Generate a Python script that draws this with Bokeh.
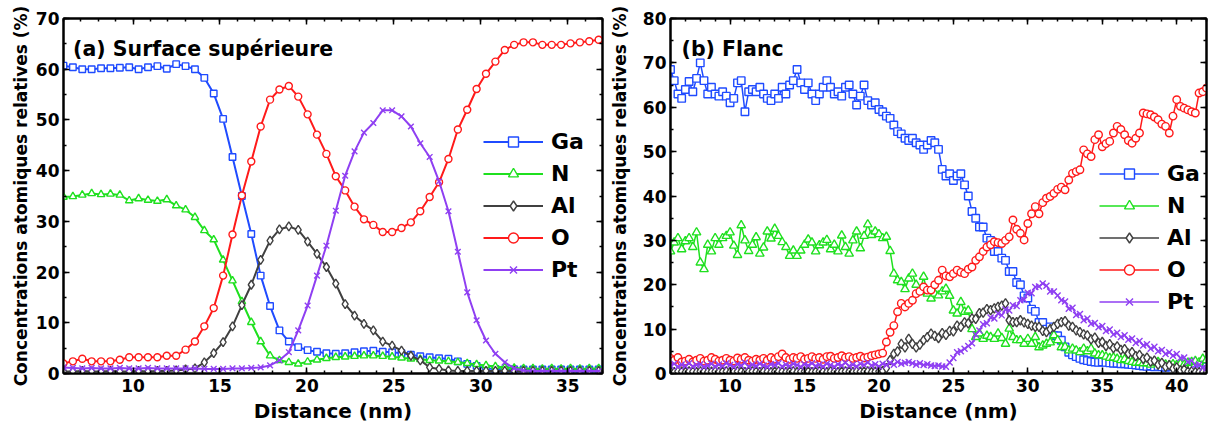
import numpy as np
from bokeh.plotting import figure
from bokeh.models import (Range1d, LinearAxis, SingleIntervalTicker, Legend, LegendItem,
                          Label, CustomJSTickFormatter)
from bokeh.layouts import row
from bokeh.embed import file_html
from bokeh.resources import INLINE

# ---------------- data ----------------
elements = ["Ga", "N", "Al", "O", "Pt"]
colors = ["#1f4bff", "#1fe01f", "#404040", "#ff1a1a", "#8f3ff2"]
markers = ["square", "triangle", "diamond", "circle", "x"]

# (a) Surface supérieure  -- distance grid (nm)
dist_a = np.round(6 + 0.54 * np.arange(58), 2)
ga_a = [60.7, 60.4, 60.0, 60.0, 60.2, 60.2, 60.3, 60.4, 60.0, 60.4,
        60.6, 60.1, 61.0, 60.6, 60.0, 58.3, 55.2, 50.2, 42.7, 35.0,
        27.5, 19.3, 13.3, 8.5, 6.3, 5.2, 4.6, 4.3, 4.0, 3.9,
        4.0, 4.2, 4.4, 4.5, 4.3, 4.2, 4.0, 3.7, 3.4, 3.2,
        3.0, 2.9, 2.4, 1.9, 1.5, 1.0, 0.9, 0.8, 0.8, 0.8,
        0.8, 0.8, 0.8, 0.8, 0.8, 0.8, 0.8, 0.8]
n_a = [34.8, 34.9, 35.2, 35.5, 35.3, 35.4, 35.2, 34.1, 34.5, 34.2,
       34.0, 34.3, 33.1, 32.3, 30.8, 28.2, 26.4, 22.4, 18.3, 14.2,
       10.1, 6.3, 3.5, 2.6, 2.2, 1.9, 2.3, 2.7, 3.0, 3.2,
       3.3, 3.4, 3.5, 3.5, 3.4, 3.3, 3.1, 2.9, 2.8, 2.6,
       2.5, 2.4, 2.2, 2.0, 1.8, 1.6, 1.4, 1.2, 1.1, 1.0,
       1.0, 0.9, 1.0, 0.9, 1.0, 0.9, 1.0, 1.0]
al_a = [0.4, 0.4, 0.5, 0.4, 0.4, 0.5, 0.4, 0.4, 0.5, 0.4,
        0.5, 0.5, 0.6, 0.8, 1.0, 2.2, 4.0, 6.2, 9.3, 13.5,
        17.5, 22.4, 26.2, 28.4, 29.0, 28.3, 26.0, 23.6, 21.0, 17.7,
        13.7, 11.4, 9.8, 8.5, 6.3, 5.5, 4.5, 3.5, 2.6, 1.2,
        0.9, 0.6, 0.5, 0.5, 0.5, 0.5, 0.5, 0.5, 0.5, 0.5,
        0.5, 0.5, 0.5, 0.5, 0.5, 0.5, 0.5, 0.5]
o_a = [2.0, 2.4, 2.9, 2.4, 2.4, 2.4, 2.7, 3.2, 3.2, 3.2,
       3.2, 3.5, 3.5, 4.7, 6.3, 9.3, 12.9, 19.3, 27.4, 35.1,
       41.8, 48.7, 54.0, 56.0, 56.7, 54.6, 51.1, 47.1, 43.3, 38.9,
       36.1, 32.9, 30.4, 29.3, 27.9, 27.9, 28.7, 29.8, 32.0, 34.8,
       37.7, 42.3, 48.1, 52.0, 56.1, 59.1, 61.5, 63.8, 64.8, 65.3,
       65.3, 64.8, 64.8, 64.8, 65.1, 65.3, 65.5, 65.8]
pt_a = [1.2, 1.1, 1.0, 1.1, 1.0, 1.0, 1.1, 1.0, 1.0, 1.1,
        1.0, 1.0, 1.0, 1.0, 1.0, 0.9, 0.9, 0.9, 1.0, 1.0,
        1.1, 1.2, 1.6, 2.6, 4.2, 8.5, 13.4, 19.3, 25.2, 32.1,
        39.0, 43.8, 47.5, 49.4, 51.9, 51.9, 50.7, 48.7, 45.4, 42.7,
        37.9, 32.0, 24.0, 16.0, 10.5, 6.5, 3.9, 2.2, 1.0, 0.6,
        0.5, 0.5, 0.5, 0.5, 0.5, 0.5, 0.5, 0.5]

# (b) Flanc -- distance grid (nm), 0.25 nm step
dist_b = np.round(6 + 0.25 * np.arange(145), 2)
ga_b = [68.5, 66.0, 63.0, 62.0, 64.0, 65.8, 63.5, 66.5,
        70.0, 66.0, 63.0, 64.5, 63.0, 62.5, 63.5, 62.5,
        61.0, 62.0, 65.5, 66.0, 59.0, 63.5, 64.0, 63.5,
        64.5, 63.0, 62.0, 61.5, 63.0, 62.0, 64.5, 63.0,
        65.0, 66.0, 68.5, 65.5, 64.0, 65.5, 63.0, 61.5,
        63.0, 64.5, 66.0, 64.5, 63.0, 63.5, 62.5, 64.5,
        65.0, 63.0, 60.5, 62.5, 65.0, 61.5, 60.5, 61.0,
        59.5, 59.0, 58.0, 57.5, 56.0, 54.5, 54.0, 53.0,
        52.5, 53.0, 52.0, 51.5, 50.5, 51.5, 52.5, 52.0,
        50.5, 46.0, 44.5, 45.0, 43.5, 44.5, 45.0, 42.5,
        40.0, 36.5, 35.0, 33.0, 33.0, 30.5, 30.0, 27.5,
        27.5, 26.0, 25.5, 23.0, 23.0, 20.5, 20.0, 17.5,
        17.0, 14.5, 14.0, 11.5, 11.5, 10.0, 10.5, 8.5,
        8.5, 7.5, 6.0, 4.8, 4.2, 3.8, 3.4, 3.1,
        2.9, 2.7, 2.6, 2.5, 2.6, 2.5, 2.4, 2.3,
        2.3, 2.2, 2.2, 2.1, 2.0, 1.9, 1.8, 1.7,
        1.6, 1.7, 1.5, 1.6, 1.5, 1.4, 1.5, 1.6,
        1.5, 1.4, 1.6, 1.5, 1.4, 1.5, 1.6, 1.5,
        1.5]
n_b = [27.5, 29.5, 30.5, 28.0, 29.8, 30.5, 28.5, 31.8,
       25.0, 23.5, 29.0, 27.5, 30.5, 29.0, 30.5, 31.0,
       31.8, 28.8, 26.7, 33.4, 30.0, 27.6, 29.0, 30.7,
       27.0, 28.4, 32.0, 30.4, 32.6, 31.0, 29.6, 28.5,
       26.5, 27.7, 26.5, 27.7, 29.0, 30.2, 29.5, 27.5,
       28.9, 29.5, 30.1, 28.0, 29.0, 27.5, 31.1, 28.5,
       27.0, 30.0, 32.0, 28.2, 31.0, 33.6, 31.2, 32.0,
       31.4, 30.5, 30.8, 27.6, 22.5, 21.0, 20.6, 19.0,
       21.4, 22.5, 20.0, 18.4, 21.8, 18.0, 16.9, 18.0,
       17.6, 18.5, 19.1, 17.5, 14.2, 13.5, 16.1, 13.9,
       14.2, 10.0, 8.2, 9.0, 7.8, 8.5, 8.2, 7.8,
       9.0, 8.0, 6.7, 10.1, 8.2, 7.5, 7.5, 6.7,
       7.8, 6.7, 8.2, 5.9, 6.3, 6.7, 7.0, 8.6,
       7.5, 5.9, 6.0, 5.2, 5.6, 5.2, 4.8, 5.6,
       5.0, 5.6, 4.5, 4.1, 4.1, 3.8, 3.5, 3.6,
       3.3, 3.0, 3.2, 2.8, 2.6, 2.4, 2.5, 2.3,
       2.3, 2.0, 2.4, 2.6, 2.2, 2.0, 1.9, 2.1,
       1.9, 2.2, 2.0, 2.4, 2.6, 2.8, 2.5, 3.3,
       3.0]
al_b = [0.4, 0.3, 0.5, 0.4, 0.3, 0.5, 0.4, 0.3,
        0.5, 0.4, 0.3, 0.4, 0.5, 0.3, 0.4, 0.5,
        0.3, 0.4, 0.5, 0.4, 0.3, 0.4, 0.5, 0.4,
        0.3, 0.5, 0.4, 0.3, 0.4, 0.5, 0.4, 0.3,
        0.4, 0.5, 0.3, 0.4, 0.5, 0.4, 0.3, 0.4,
        0.5, 0.4, 0.3, 0.5, 0.4, 0.3, 0.4, 0.5,
        0.4, 0.3, 0.5, 0.4, 0.4, 0.5, 0.3, 0.4,
        0.5, 0.6, 1.2, 3.0, 4.4, 5.0, 6.7, 5.9,
        7.8, 6.7, 5.9, 6.5, 7.5, 8.2, 9.0, 8.5,
        8.0, 9.1, 8.7, 9.6, 9.5, 10.8, 10.5, 11.5,
        11.3, 12.4, 12.3, 13.6, 13.7, 14.5, 14.3, 14.7,
        15.0, 15.3, 15.8, 12.0, 11.6, 11.6, 12.0, 11.5,
        11.2, 10.8, 10.5, 10.5, 9.6, 9.3, 10.0, 10.5,
        11.2, 11.6, 11.8, 10.8, 10.5, 9.7, 9.3, 8.8,
        8.6, 7.7, 8.1, 6.9, 7.1, 6.2, 6.6, 5.7,
        6.1, 5.3, 5.5, 4.5, 4.8, 3.9, 4.2, 3.3,
        3.6, 2.7, 2.9, 2.0, 2.4, 1.5, 1.9, 1.1,
        1.4, 0.7, 0.9, 0.4, 0.5, 0.3, 0.3, 0.3,
        0.3]
o_b = [3.4, 3.0, 3.6, 2.6, 2.8, 3.2, 2.6, 3.0,
       3.4, 2.8, 3.0, 3.6, 3.2, 2.8, 3.0, 3.4,
       3.0, 2.8, 3.5, 3.2, 3.6, 3.0, 2.8, 3.2,
       3.0, 3.4, 3.0, 3.6, 3.2, 3.8, 4.4, 3.6,
       3.2, 3.6, 3.4, 3.8, 3.2, 3.4, 3.8, 3.4,
       3.6, 3.2, 3.8, 3.9, 3.4, 3.6, 4.0, 3.6,
       3.8, 3.4, 3.6, 3.9, 3.5, 3.7, 4.0, 4.2,
       4.4, 4.6, 7.1, 9.3, 10.8, 13.9, 15.8, 15.0,
       15.8, 16.5, 18.0, 18.5, 19.5, 18.8, 18.8, 20.0,
       21.0, 23.3, 22.0, 21.8, 22.5, 23.3, 22.8, 22.5,
       23.5, 24.0, 25.5, 26.3, 27.5, 28.5, 29.0, 29.7,
       29.5, 29.3, 30.0, 30.8, 34.6, 32.5, 31.6, 30.1,
       33.8, 36.0, 37.6, 36.0, 38.5, 39.5, 39.9, 40.6,
       41.5, 42.0, 41.4, 43.6, 45.1, 45.5, 45.9, 50.4,
       49.5, 48.9, 52.7, 53.8, 51.1, 51.8, 52.3, 54.2,
       55.7, 55.0, 53.8, 52.5, 51.9, 53.0, 54.2, 58.7,
       58.5, 58.3, 57.8, 57.2, 56.2, 55.7, 54.2, 58.0,
       61.7, 60.2, 59.8, 59.4, 59.0, 58.7, 63.2, 63.5,
       64.3]
pt_b = [1.8, 2.2, 1.5, 2.0, 1.7, 2.3, 1.6, 1.9,
        2.1, 1.5, 1.8, 2.2, 1.6, 2.0, 1.7, 2.3,
        1.9, 1.5, 2.1, 1.8, 2.4, 1.6, 2.0, 1.7,
        2.2, 1.8, 1.5, 2.1, 1.9, 2.3, 1.6, 2.0,
        1.7, 2.2, 1.9, 1.5, 2.1, 1.8, 2.3, 1.7,
        2.0, 1.6, 2.2, 1.9, 1.5, 2.1, 1.8, 2.4,
        1.7, 2.0, 1.6, 2.2, 1.9, 2.5, 1.8, 2.1,
        1.6, 2.2, 1.9, 2.4, 2.0, 2.6, 2.2, 2.4,
        2.6, 2.3, 2.0, 2.3, 1.9, 2.1, 1.8, 1.7,
        1.8, 1.6, 1.5, 2.5, 3.5, 4.8, 5.0, 5.6,
        6.2, 6.8, 8.8, 9.7, 11.1, 11.3, 12.6, 12.4,
        13.5, 13.1, 14.4, 14.2, 15.4, 15.2, 16.5, 16.6,
        18.2, 18.1, 19.5, 19.6, 20.3, 19.8, 18.5, 18.5,
        17.6, 16.5, 16.2, 14.6, 14.8, 13.2, 13.4, 12.0,
        12.4, 11.2, 11.4, 10.4, 10.7, 9.6, 9.9, 8.8,
        9.2, 8.2, 8.6, 7.6, 7.9, 6.9, 7.3, 6.3,
        6.6, 5.6, 6.0, 5.0, 5.3, 4.4, 4.8, 4.0,
        4.4, 3.5, 3.6, 2.6, 2.9, 1.9, 2.0, 1.3,
        1.2]

x_ticks_interval = 5
y_ticks_interval = 10
ylabel = "Concentrations atomiques relatives (%)"
xlabel = "Distance (nm)"

FONT = "DejaVu Sans"


def style_axis(ax, interval, nminor, labels=True):
    ax.ticker = SingleIntervalTicker(interval=interval, num_minor_ticks=nminor)
    ax.axis_line_width = 2
    ax.axis_line_color = "black"
    ax.major_tick_in = 6
    ax.major_tick_out = 0
    ax.minor_tick_in = 3
    ax.minor_tick_out = 0
    ax.major_tick_line_width = 1.5
    ax.minor_tick_line_width = 1.5
    ax.major_tick_line_color = "black"
    ax.minor_tick_line_color = "black"
    if labels:
        ax.major_label_text_font = FONT
        ax.major_label_text_font_style = "bold"
        ax.major_label_text_font_size = "17px"
        ax.major_label_text_color = "black"
    else:
        ax.formatter = CustomJSTickFormatter(code="return ''")
        ax.major_label_text_font_size = "0px"
        ax.major_label_standoff = 0


def make_panel(dist, series, xr, yr, width, border_left, border_right, title, title_xy,
               legend_loc, ylabel_standoff, msize, lw):
    p = figure(width=width, height=428, x_range=Range1d(*xr), y_range=Range1d(*yr),
               output_backend="svg", toolbar_location=None,
               min_border_left=border_left, min_border_right=border_right,
               min_border_top=18, min_border_bottom=55)
    p.xgrid.visible = False
    p.ygrid.visible = False
    p.outline_line_color = "black"
    p.outline_line_width = 2
    p.background_fill_color = "white"

    xa = p.below[0]
    ya = p.left[0]
    style_axis(xa, x_ticks_interval, 5)
    style_axis(ya, y_ticks_interval, 2)
    xa.axis_label = xlabel
    ya.axis_label = ylabel
    for ax in (xa, ya):
        ax.axis_label_text_font = FONT
        ax.axis_label_text_font_style = "bold"
        ax.axis_label_text_color = "black"
    xa.axis_label_text_font_size = "20px"
    ya.axis_label_text_font_size = "17px"
    xa.major_label_standoff = 5
    xa.axis_label_standoff = 4
    ya.major_label_standoff = 4
    ya.axis_label_standoff = ylabel_standoff

    top = LinearAxis()
    style_axis(top, x_ticks_interval, 5, labels=False)
    p.add_layout(top, "above")
    right = LinearAxis()
    style_axis(right, y_ticks_interval, 2, labels=False)
    p.add_layout(right, "right")

    items = []
    for name, col, mk, vals in zip(elements, colors, markers, series):
        ln = p.line(dist, vals, line_color=col, line_width=lw)
        sc = p.scatter(dist, vals, marker=mk, size=msize[mk], fill_color="white",
                       line_color=col, line_width=1.4)
        items.append(LegendItem(label=name, renderers=[ln, sc]))

    leg = Legend(items=items, location=legend_loc)
    leg.label_text_font = FONT
    leg.label_text_font_style = "bold"
    leg.label_text_font_size = "22px"
    leg.label_text_color = "black"
    leg.glyph_width = 60
    leg.glyph_height = 25
    leg.label_height = 25
    leg.spacing = 7
    leg.padding = 0
    leg.margin = 0
    leg.label_standoff = 8
    leg.border_line_alpha = 0
    leg.background_fill_alpha = 0
    p.add_layout(leg)

    p.add_layout(Label(x=title_xy[0], y=title_xy[1], text=title, text_font=FONT,
                       text_font_style="bold", text_font_size="20.5px",
                       text_baseline="alphabetic", text_color="black"))
    return p


size_a = {"square": 6.5, "triangle": 7.5, "diamond": 9, "circle": 7, "x": 8}
size_b = {"square": 7.5, "triangle": 8.5, "diamond": 9.5, "circle": 7.5, "x": 8.5}

p1 = make_panel(dist_a, [ga_a, n_a, al_a, o_a, pt_a], (6, 37), (0, 70), 606, 63, 4,
                "(a) Surface supérieure", (6.55, 64.0), (420, 91), 2, size_a, 2)
p2 = make_panel(dist_b, [ga_b, n_b, al_b, o_b, pt_b], (6, 42), (0, 80), 602, 62, 2,
                "(b) Flanc", (6.74, 73.2), (429, 59), 10, size_b, 1.5)

layout = row(p1, p2)
open("out.html", "w").write(file_html(layout, INLINE))
